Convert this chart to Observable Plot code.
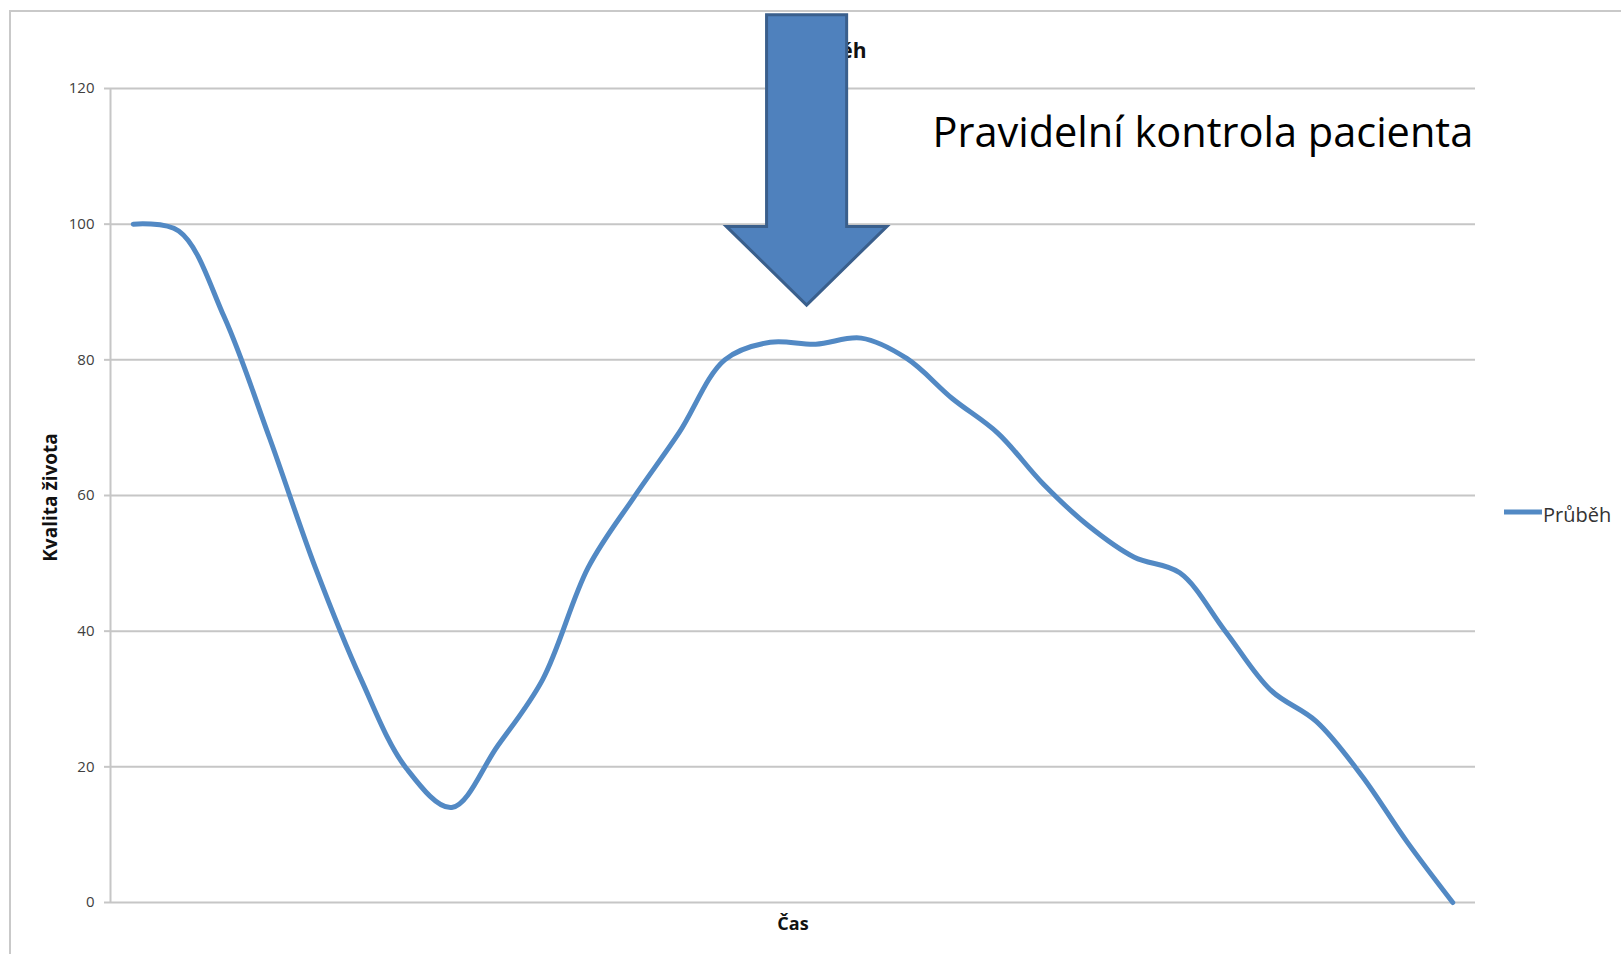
<!DOCTYPE html>
<html><head><meta charset="utf-8">
<script src="https://cdn.jsdelivr.net/npm/d3@7"></script>
<script src="https://cdn.jsdelivr.net/npm/@observablehq/plot@0.6"></script>
<style>
body{margin:0;background:#fff;}
#wrap{position:relative;width:1621px;height:954px;overflow:hidden;font-family:"Open Sans",sans-serif;}
#frame{position:absolute;left:9px;top:10px;width:1700px;height:1000px;border:2px solid #c9c9c9;box-sizing:border-box;}
#chart{position:absolute;left:0;top:0;}
</style></head><body>
<div id="wrap"><div id="frame"></div><div id="chart"></div></div>
<script>
// ---- data ----
const timeSteps = d3.range(1, 31);
const quality = [100, 99, 86.3, 68.4, 49.4, 33, 19.8, 14, 23, 32.9,
                 49.4, 59.7, 69.3, 80, 82.6, 82.3, 83.2, 80.2, 74.3, 69.2,
                 61.7, 55.5, 50.9, 48.6, 40.0, 31.3, 26.7, 18.7, 8.9, 0];
const yTicks = [0, 20, 40, 60, 80, 100, 120];
const seriesName = "Průběh";
const chartTitle = "Průběh";
const yLabel = "Kvalita života";
const xLabel = "Čas";
const note = "Pravidelní kontrola pacienta";
// arrow annotation (data units: time step / quality)
const arrowAt = 15.81, arrowTop = 130.8, arrowNeck = 99.6, arrowTip = 88;
const shaftHalf = 0.88, headHalf = 1.765;

const rows = timeSteps.map((t, i) => ({t, v: quality[i]}));

const arrowMark = (index, {x, y}) => {
  const cx = x(arrowAt);
  const xs0 = x(arrowAt - shaftHalf), xs1 = x(arrowAt + shaftHalf);
  const xh0 = x(arrowAt - headHalf), xh1 = x(arrowAt + headHalf);
  const yt = y(arrowTop), yn = y(arrowNeck), yp = y(arrowTip);
  const d = `M${xs0},${yt}L${xs1},${yt}L${xs1},${yn}L${xh1},${yn}L${cx},${yp}L${xh0},${yn}L${xs0},${yn}Z`;
  return d3.create("svg:path").attr("d", d)
    .attr("fill", "#4f81bd").attr("stroke", "#3a5f8c").attr("stroke-width", 3)
    .node();
};

const legendMark = (index, scales, values, {width, height, marginRight, marginTop, marginBottom}) => {
  const g = d3.create("svg:g");
  const x0 = width - marginRight + 29;
  const yc = (marginTop + height - marginBottom) / 2 + 17;
  g.append("line").attr("x1", x0).attr("x2", x0 + 38).attr("y1", yc).attr("y2", yc)
    .attr("stroke", "#5289c4").attr("stroke-width", 5);
  g.append("text").attr("x", x0 + 39).attr("y", yc + 10).attr("text-anchor", "start")
    .attr("font-size", 20).attr("fill", "#333").attr("font-family", '"Open Sans", sans-serif')
    .text(seriesName);
  return g.node();
};

const plot = Plot.plot({
  width: 1621, height: 954,
  marginLeft: 110, marginRight: 146, marginTop: 88, marginBottom: 52,
  style: {fontFamily: '"Open Sans", sans-serif', background: "transparent", overflow: "visible"},
  x: {domain: [0.5, 30.5], axis: null},
  y: {domain: [0, 120]},
  marks: [
    Plot.gridY(yTicks, {stroke: "#c6c6c6", strokeOpacity: 1, strokeWidth: 2}),
    Plot.ruleX([0.5], {stroke: "#c6c6c6", strokeWidth: 2}),
    Plot.axisY(yTicks, {tickSize: 6, tickPadding: 10, stroke: "#c6c6c6", strokeWidth: 2,
      fill: "#404040", fontSize: 15, label: null}),
    Plot.line(rows, {x: "t", y: "v", curve: "catmull-rom", stroke: "#5289c4", strokeWidth: 5, strokeLinecap: "round"}),
    Plot.text([chartTitle], {frameAnchor: "top", dx: 35.5, dy: -31, lineAnchor: "bottom",
      fontWeight: "bold", fontSize: 21, fill: "#111"}),
    arrowMark,
    Plot.text([note], {x: 30.45, y: 111.4, textAnchor: "end", lineAnchor: "bottom", fontSize: 41.5, fill: "#000"}),
    Plot.text([yLabel], {frameAnchor: "left", textAnchor: "middle", rotate: -90, dx: -60, dy: 2,
      fontWeight: "bold", fontSize: 19, fill: "#111"}),
    Plot.text([xLabel], {frameAnchor: "bottom", dy: 27, lineAnchor: "bottom", fontWeight: "bold", fontSize: 18, fill: "#111"}),
    legendMark
  ]
});
document.getElementById("chart").appendChild(plot);
</script>
</body></html>
